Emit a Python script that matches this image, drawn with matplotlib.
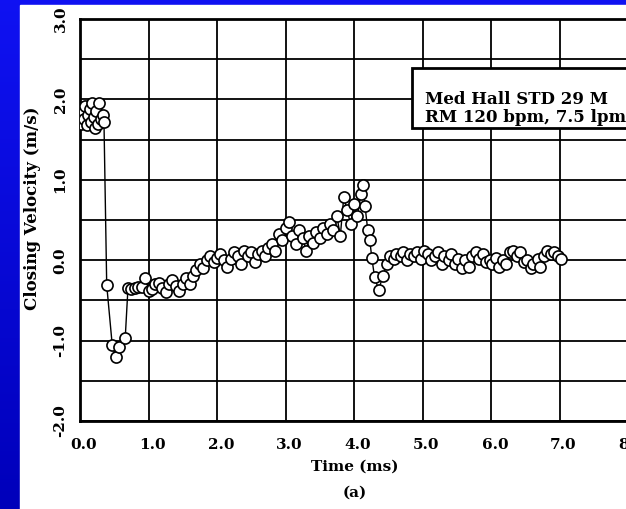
import numpy as np
import matplotlib
matplotlib.use("Agg")
import matplotlib.pyplot as plt
from matplotlib.patches import Rectangle
from matplotlib.transforms import ScaledTranslation

# closing velocity samples (time in ms, velocity in m/s)
time_ms = [0.00, 0.02, 0.04, 0.06, 0.08, 0.10, 0.12, 0.14, 0.16, 0.18, 0.20, 0.22,
           0.24, 0.26, 0.28, 0.30, 0.33, 0.35,
           0.39, 0.47, 0.52, 0.57, 0.66, 0.70, 0.75, 0.80, 0.85, 0.90, 0.95, 1.00,
           1.05, 1.10, 1.15, 1.20, 1.25, 1.30, 1.35, 1.40, 1.45, 1.50, 1.55, 1.60,
           1.65, 1.70, 1.75, 1.80, 1.85, 1.90, 1.95, 2.00, 2.05, 2.10, 2.15, 2.20,
           2.25, 2.30, 2.35, 2.40, 2.45, 2.50, 2.55, 2.60, 2.65, 2.70, 2.75, 2.80,
           2.85, 2.90, 2.95, 3.00, 3.05, 3.10, 3.15, 3.20, 3.25, 3.30, 3.35, 3.40,
           3.45, 3.50, 3.55, 3.60, 3.65, 3.70, 3.75, 3.80, 3.85, 3.90, 3.95, 4.00,
           4.05, 4.10, 4.13, 4.16, 4.20, 4.23, 4.26, 4.30, 4.36, 4.42, 4.48, 4.52,
           4.58, 4.62, 4.68, 4.72, 4.78, 4.82, 4.88, 4.92, 4.98, 5.02, 5.08, 5.12,
           5.18, 5.22, 5.28, 5.32, 5.38, 5.42, 5.48, 5.52, 5.58, 5.62, 5.68, 5.72,
           5.78, 5.82, 5.88, 5.92, 5.98, 6.02, 6.08, 6.12, 6.18, 6.22, 6.28, 6.32,
           6.38, 6.42, 6.48, 6.52, 6.58, 6.62, 6.68, 6.72, 6.78, 6.82, 6.88, 6.92,
           6.98, 7.02]
velocity = [1.80, 1.70, 1.85, 1.75, 1.92, 1.68, 1.80, 1.88, 1.72, 1.95, 1.78, 1.65,
            1.85, 1.70, 1.95, 1.75, 1.80, 1.72,
            -0.31, -1.05, -1.20, -1.08, -0.97, -0.35, -0.36, -0.35, -0.33, -0.33, -0.22, -0.38,
            -0.36, -0.30, -0.28, -0.35, -0.40, -0.30, -0.25, -0.32, -0.38, -0.30, -0.22, -0.30,
            -0.20, -0.12, -0.05, -0.10, 0.00, 0.05, -0.02, 0.03, 0.08, 0.00, -0.08, 0.02,
            0.10, 0.05, -0.05, 0.12, 0.05, 0.10, -0.02, 0.08, 0.12, 0.05, 0.15, 0.20,
            0.12, 0.32, 0.25, 0.40, 0.48, 0.30, 0.20, 0.38, 0.28, 0.12, 0.30, 0.22,
            0.35, 0.28, 0.40, 0.32, 0.45, 0.38, 0.55, 0.30, 0.78, 0.62, 0.45, 0.70,
            0.55, 0.82, 0.93, 0.68, 0.38, 0.25, 0.03, -0.21, -0.37, -0.20, -0.05, 0.05,
            0.02, 0.08, 0.05, 0.10, 0.00, 0.08, 0.05, 0.10, 0.02, 0.12, 0.08, 0.00,
            0.05, 0.10, -0.05, 0.05, 0.00, 0.08, -0.05, 0.02, -0.10, 0.00, -0.08, 0.05,
            0.10, 0.02, 0.08, -0.02, 0.00, -0.05, 0.03, -0.08, 0.00, -0.05, 0.10, 0.12,
            0.05, 0.10, -0.02, 0.00, -0.10, -0.05, 0.02, -0.08, 0.05, 0.12, 0.08, 0.10,
            0.05, 0.02]

x_ticks = [0, 1, 2, 3, 4, 5, 6, 7, 8]
x_labels = ["0.0", "1.0", "2.0", "3.0", "4.0", "5.0", "6.0", "7.0", "8.0"]
y_ticks = [-2, -1, 0, 1, 2, 3]
y_labels = ["-2.0", "-1.0", "0.0", "1.0", "2.0", "3.0"]
legend_lines = ["Med Hall STD 29 M", "RM 120 bpm, 7.5 lpm"]

W, H = 626, 509
fig = plt.figure(figsize=(W / 100, H / 100), dpi=100)

# blue slide background with white panel
bg = fig.add_axes([0, 0, 1, 1], zorder=-10)
grad = np.linspace(0, 1, 256)
cols = np.zeros((256, 1, 3))
cols[:, 0, 0] = 0.06 - 0.06 * grad
cols[:, 0, 1] = 0.07 - 0.07 * grad
cols[:, 0, 2] = 0.95 - 0.22 * grad
bg.imshow(cols, aspect="auto", extent=[0, 1, 0, 1])
bg.add_patch(Rectangle((20 / W, 0), 1, 1 - 5 / H, color="white"))
bg.set_xlim(0, 1)
bg.set_ylim(0, 1)
bg.axis("off")

serif = "DejaVu Serif"
ax = fig.add_axes([80 / W, 1 - 421 / H, 548 / W, 402 / H])
ax.set_facecolor("none")
ax.plot(time_ms, velocity, color="black", lw=1.0, marker="o", ms=8,
        mfc="white", mec="black", mew=1.2, zorder=3)

ax.set_xlim(0, 8)
ax.set_ylim(-2, 3)
ax.set_xticks(x_ticks)
ax.set_yticks(y_ticks)
ax.set_yticks(np.arange(-1.5, 3, 1.0), minor=True)
ax.grid(True, color="black", lw=1.3)
ax.grid(True, which="minor", axis="y", color="black", lw=1.3)
ax.set_xticklabels(x_labels, fontfamily=serif, fontweight="bold", fontsize=11)
ax.set_yticklabels(y_labels, fontfamily=serif, fontweight="bold", fontsize=11,
                   rotation=90, va="center")
ax.tick_params(axis="both", which="both", length=0)
ax.tick_params(axis="x", pad=12)
ax.tick_params(axis="y", pad=9)
for lab in ax.get_xticklabels():
    lab.set_transform(lab.get_transform() + ScaledTranslation(4 / 100, 0, fig.dpi_scale_trans))
for sp in ax.spines.values():
    sp.set_linewidth(2)

fig.text(355 / W, 1 - 467 / H, "Time (ms)", ha="center", va="center",
         fontfamily=serif, fontweight="bold", fontsize=11)
fig.text(355 / W, 1 - 493 / H, "(a)", ha="center", va="center",
         fontfamily=serif, fontweight="bold", fontsize=11)
fig.text(33 / W, 1 - 208 / H, "Closing Velocity (m/s)", ha="center", va="center",
         rotation=90, fontfamily=serif, fontweight="bold", fontsize=12)

# annotation box
fig.patches.append(Rectangle((412 / W, 1 - 128 / H), 300 / W, 60 / H,
                             transform=fig.transFigure, facecolor="white",
                             edgecolor="black", lw=2, zorder=5))
fig.text(425 / W, 1 - 100 / H, legend_lines[0], ha="left", va="center",
         fontfamily=serif, fontweight="bold", fontsize=12, zorder=6)
fig.text(425 / W, 1 - 117 / H, legend_lines[1], ha="left", va="center",
         fontfamily=serif, fontweight="bold", fontsize=12, zorder=6)

fig.savefig("out.png", dpi=100)
